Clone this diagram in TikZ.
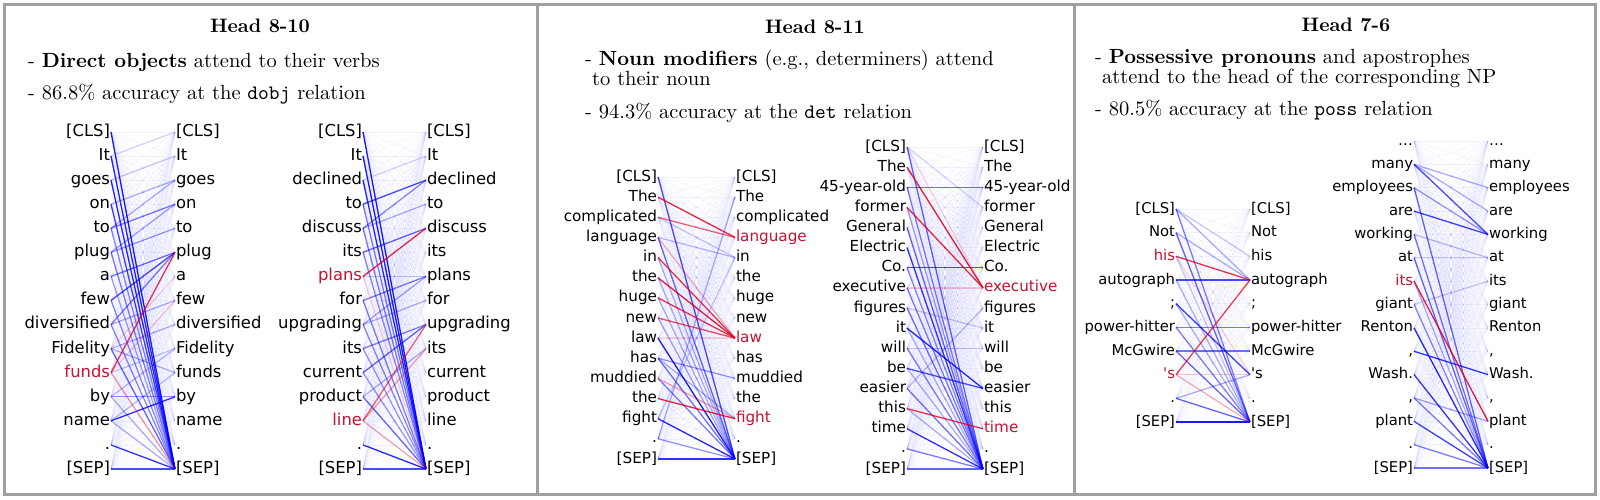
\documentclass[tikz,border=0pt]{standalone}
\usepackage{fontspec}
\usepackage{graphicx}
\newfontfamily\wf{DejaVu Sans}
\definecolor{h}{RGB}{196,18,48}
\colorlet{k}{black}
\definecolor{frame}{RGB}{160,160,160}
\definecolor{lb}{RGB}{0,0,255}
\definecolor{lr}{RGB}{230,0,30}
\tikzset{
  lw/.style={anchor=east, inner sep=1pt, outer sep=0pt},
  rw/.style={anchor=west, inner sep=1pt, outer sep=0pt},
  fl/.style={draw=lb, line width=0.6pt, draw opacity=0.05},
  bl/.style={draw=lb, line width=1.3pt},
  rl/.style={draw=lr, line width=1.3pt},
  frm/.style={draw=frame, line width=3pt},
  ttl/.style={anchor=base, inner sep=0pt},
  txt/.style={anchor=base west, inner sep=0pt},
}
% #1 prefix, #2 xL, #3 xR, #4 y0, #5 dy, #6 font size, #7 text height, #8 text depth, #9 list
\newcommand\diag[9]{%
  \foreach \w/\cl/\cr [count=\ii from 0] in {#9}{%
    \node[lw, text=\cl, text height=#7, text depth=#8, font=\wf\fontsize{#6}{#6}\selectfont] (#1L\ii) at (#2,{#4+\ii*#5}) {\w};
    \node[rw, text=\cr, text height=#7, text depth=#8, font=\wf\fontsize{#6}{#6}\selectfont] (#1R\ii) at (#3,{#4+\ii*#5}) {\w};
  }}
\newcommand\faint[2]{\foreach \p in {0,...,#2}{\foreach \q in {0,...,#2}{\draw[fl] (#1L\p.east) -- (#1R\q.west);}}}
\newcommand\links[3]{\foreach \p/\q/\op in {#3}{\draw[#2, draw opacity=\op] (#1L\p.east) -- (#1R\q.west);}}
\begin{document}
\begin{tikzpicture}[x=1pt,y=-1pt]
\useasboundingbox (0,0) rectangle (1600,499);
% frames
\draw[frm] (4,4.5) rectangle (537.5,494);
\draw[frm] (537.5,4.5) rectangle (1074,494);
\draw[frm] (1074,4.5) rectangle (1595.5,494);
% panel texts
\node[ttl] (h1) at (260,32) {\scalebox{1.95}{\bfseries Head 8-10}};
\node[txt] (t1a) at (28,67) {\scalebox{2.05}{- \textbf{Direct objects} attend to their verbs}};
\node[txt] (t1b) at (28,99) {\scalebox{2.05}{- 86.8\% accuracy at the \texttt{dobj} relation}};
\node[ttl] (h2) at (815,33) {\scalebox{1.95}{\bfseries Head 8-11}};
\node[txt] (t2a) at (585,65) {\scalebox{2.05}{- \textbf{Noun modifiers} (e.g., determiners) attend}};
\node[txt] (t2b) at (592,85) {\scalebox{2.05}{to their noun}};
\node[txt] (t2c) at (585,118) {\scalebox{2.05}{- 94.3\% accuracy at the \texttt{det} relation}};
\node[ttl] (h3) at (1346,31) {\scalebox{1.95}{\bfseries Head 7-6}};
\node[txt] (t3a) at (1095,63) {\scalebox{2.05}{- \textbf{Possessive pronouns} and apostrophes}};
\node[txt] (t3b) at (1102,83) {\scalebox{2.05}{attend to the head of the corresponding NP}};
\node[txt] (t3c) at (1095,115) {\scalebox{2.05}{- 80.5\% accuracy at the \texttt{poss} relation}};
% diagrams
\diag{a}{111}{175}{132}{24.07}{16.4}{12.1pt}{3.3pt}{{[CLS]}/k/k,It/k/k,goes/k/k,on/k/k,to/k/k,plug/k/k,a/k/k,few/k/k,diversified/k/k,Fidelity/k/k,funds/h/k,by/k/k,name/k/k,./k/k,{[SEP]}/k/k}
\diag{b}{363}{426}{132}{24.07}{16.4}{12.1pt}{3.3pt}{{[CLS]}/k/k,It/k/k,declined/k/k,to/k/k,discuss/k/k,its/k/k,plans/h/k,for/k/k,upgrading/k/k,its/k/k,current/k/k,product/k/k,line/h/k,./k/k,{[SEP]}/k/k}
\diag{c}{658}{735}{177}{20.14}{15.2}{11.2pt}{3pt}{{[CLS]}/k/k,The/k/k,complicated/k/k,language/k/h,in/k/k,the/k/k,huge/k/k,new/k/k,law/k/h,has/k/k,muddied/k/k,the/k/k,fight/k/h,./k/k,{[SEP]}/k/k}
\diag{d}{907}{983}{147}{20.125}{15.2}{11.2pt}{3pt}{{[CLS]}/k/k,The/k/k,45-year-old/k/k,former/k/k,General/k/k,Electric/k/k,Co./k/k,executive/k/h,figures/k/k,it/k/k,will/k/k,be/k/k,easier/k/k,this/k/k,time/k/h,./k/k,{[SEP]}/k/k}
\diag{e}{1176}{1250}{209}{23.67}{14.8}{11pt}{3pt}{{[CLS]}/k/k,Not/k/k,his/h/k,autograph/k/k,;/k/k,power-hitter/k/k,McGwire/k/k,'s/h/k,./k/k,{[SEP]}/k/k}
\diag{f}{1414}{1488}{141}{23.36}{14.8}{11pt}{3pt}{{\ldots}/k/k,many/k/k,employees/k/k,are/k/k,working/k/k,at/k/k,its/h/k,giant/k/k,Renton/k/k,{,}/k/k,Wash./k/k,{,}/k/k,plant/k/k,./k/k,{[SEP]}/k/k}
% faint background attention
\faint{a}{14}\faint{b}{14}\faint{c}{14}\faint{d}{16}\faint{e}{9}\faint{f}{14}
% panel 1 left
\links{a}{bl}{0/14/0.9,1/14/0.85,2/14/0.85,3/14/0.75,4/14/0.45,5/14/0.5,6/14/0.35,7/14/0.45,8/14/0.45,9/14/0.6,11/14/0.3,12/14/0.3,13/14/0.8,14/14/0.7,4/3/0.5,4/2/0.3,3/2/0.3,5/4/0.4,5/3/0.35,6/5/0.55,7/5/0.7,8/5/0.5,8/7/0.3,9/8/0.3,11/11/0.4,12/11/0.8,2/1/0.2,10/9/0.2,9/10/0.3,12/10/0.25,11/9/0.25,1/0/0.15}
\links{a}{rl}{10/5/0.8,10/14/0.4,10/7/0.2,9/6/0.15}
% panel 1 right
\links{b}{bl}{0/14/0.9,1/14/0.9,2/14/0.85,3/14/0.5,4/14/0.5,5/14/0.45,7/14/0.5,8/14/0.45,9/14/0.4,10/14/0.4,11/14/0.6,13/14/0.85,14/14/0.7,3/2/0.7,4/2/0.45,4/3/0.3,5/4/0.6,7/6/0.5,8/6/0.35,8/7/0.3,9/8/0.5,10/8/0.6,11/9/0.3,2/1/0.15,6/6/0.2}
\links{b}{rl}{6/4/0.85,12/8/0.6,12/9/0.35,12/14/0.35,6/14/0.15}
% panel 2 left
\links{c}{bl}{0/14/0.7,3/14/0.6,4/14/0.3,8/14/0.9,9/14/0.55,10/14/0.5,12/14/0.85,13/14/0.4,14/14/0.8,9/10/0.4,9/12/0.3,5/14/0.3,6/14/0.3,7/14/0.35,13/1/0.3,12/4/0.2,3/4/0.25,2/4/0.2}
\links{c}{rl}{1/3/0.85,2/3/0.6,4/8/0.8,5/8/0.9,6/8/0.8,7/8/0.7,11/12/0.85,10/12/0.35,3/8/0.3,8/8/0.15}
% panel 2 right
\links{d}{bl}{0/16/0.6,2/2/0.55,2/16/0.5,4/16/0.6,5/16/0.8,6/6/0.7,6/16/0.45,7/16/0.5,8/16/0.55,9/12/0.85,10/16/0.5,11/12/0.7,12/16/0.55,14/16/0.8,15/16/0.5,16/16/0.6,3/16/0.35,9/16/0.3,10/10/0.2,13/16/0.3,12/8/0.25,11/16/0.3,0/3/0.15,8/9/0.2}
\links{d}{rl}{1/7/0.9,3/7/0.85,13/14/0.8,7/7/0.2,0/7/0.15}
% panel 3 left
\links{e}{bl}{0/9/0.5,0/3/0.3,0/2/0.2,1/9/0.6,1/3/0.3,3/3/0.7,4/7/0.75,5/5/0.5,5/9/0.5,6/6/0.55,6/9/0.6,8/9/0.6,8/7/0.3,9/9/0.9,3/9/0.3,4/9/0.3,2/9/0.2}
\links{e}{rl}{2/3/0.8,7/3/0.75,7/9/0.3,2/7/0.15,7/7/0.2}
% panel 3 right
\links{f}{bl}{1/4/0.7,1/3/0.3,1/2/0.3,2/14/0.6,2/4/0.4,3/4/0.75,4/14/0.55,5/14/0.6,7/14/0.45,8/14/0.85,9/10/0.8,10/14/0.8,11/14/0.5,11/12/0.35,12/14/0.75,13/14/0.5,14/14/0.55,6/14/0.3,5/5/0.2,7/6/0.2,4/5/0.25}
\links{f}{rl}{6/12/0.9}
\end{tikzpicture}
\end{document}
